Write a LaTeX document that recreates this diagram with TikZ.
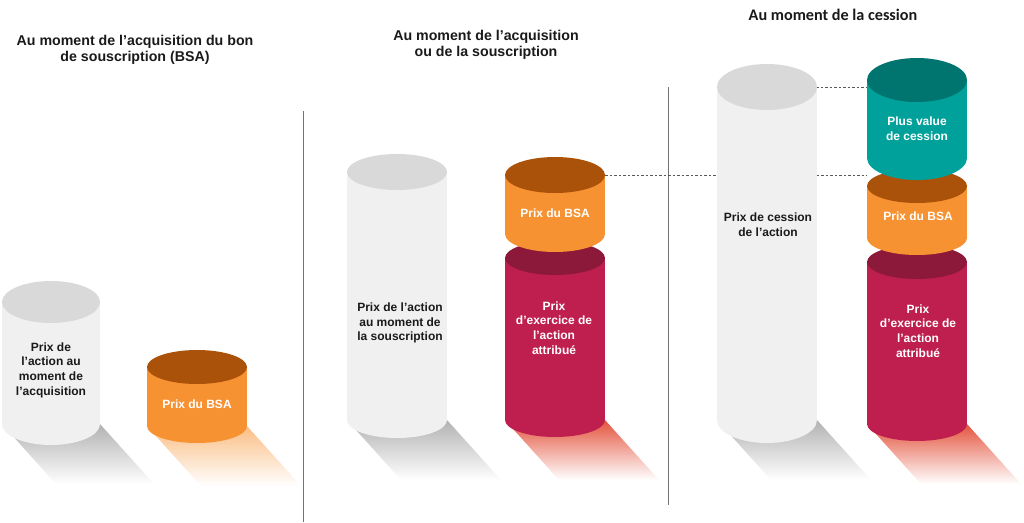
\documentclass[tikz,border=0pt]{standalone}
\usepackage{fontspec}
\setmainfont{Liberation Sans}
\newfontfamily\carlito{Carlito}
\usepackage{xcolor}
\usepackage{tikz}
\usetikzlibrary{positioning, calc}
\definecolor{ShareGray}{RGB}{240,240,240}
\definecolor{ShareGrayTop}{RGB}{217,217,217}
\definecolor{BsaOrange}{RGB}{247,146,50}
\definecolor{BsaOrangeTop}{RGB}{170,82,10}
\definecolor{StrikeRed}{RGB}{190,31,78}
\definecolor{StrikeRedTop}{RGB}{140,24,58}
\definecolor{GainTeal}{RGB}{0,161,155}
\definecolor{GainTealTop}{RGB}{0,116,110}
\definecolor{InkDark}{RGB}{26,26,26}
\definecolor{ShadowRed}{RGB}{228,84,62}
\definecolor{ShadowGray}{RGB}{178,178,178}
\definecolor{ShadowOrange}{RGB}{250,190,132}

% cylinder: cx, top y, bottom y, rx, ry, body colour, lid colour
\newcommand{\barrel}[7]{%
  \fill[#6] (#1-#4,#2) rectangle (#1+#4,#3);
  \fill[#6] (#1,#3) ellipse [x radius=#4pt, y radius=#5pt];
  \fill[#7] (#1,#2) ellipse [x radius=#4pt, y radius=#5pt];
}
% cast shadow: cx, bottom y, rx, colour
\newcommand{\castshadow}[4]{%
  \shade[top color=#4, middle color=#4!35, bottom color=white]
    (#1-#3,#2) -- (#1+#3,#2) -- (#1+#3+54,#2+60) -- (#1-#3+54,#2+60) -- cycle;
}

\begin{document}
\begin{tikzpicture}[
  x=1pt, y=-1pt,
  title/.style={font=\bfseries\fontsize{14.2}{16.5}\selectfont, text=InkDark,
                align=center, inner sep=0pt},
  label/.style={font=\bfseries\fontsize{12}{14.7}\selectfont, align=center,
                inner sep=0pt},
  darklabel/.style={label, text=InkDark},
  lightlabel/.style={label, text=white},
  divider/.style={draw=black!55, line width=1pt},
  guide/.style={draw=black!65, line width=0.6pt,
                dash pattern=on 2.5pt off 2pt},
]
\useasboundingbox[fill=white] (0,0) rectangle (1024,522);

% shadows
\castshadow{51}{424}{49}{ShadowGray}
\castshadow{197}{426}{50}{ShadowOrange}
\castshadow{397}{420}{50}{ShadowGray}
\castshadow{555}{420}{50}{ShadowRed}
\castshadow{767}{420}{50}{ShadowGray}
\castshadow{917}{424}{50}{ShadowRed}

% dividers
\coordinate (d1a) at (303,111);
\coordinate (d1b) at (303,522);
\coordinate (d2a) at (668,87);
\coordinate (d2b) at (668,505);
\draw[divider] (d1a) -- (d1b);
\draw[divider] (d2a) -- (d2b);

% guides between the columns
\coordinate (bsaLid) at (605,175);
\coordinate (gainFoot) at (867,175);
\coordinate (saleLid) at (816,87);
\coordinate (gainLid) at (867,87);
\draw[guide] (bsaLid) -- (gainFoot);
\draw[guide] (saleLid) -- (gainLid);

% column 1: acquisition du BSA
\barrel{51}{302}{424}{49}{21}{ShareGray}{ShareGrayTop}
\barrel{197}{367}{426}{50}{17}{BsaOrange}{BsaOrangeTop}
\node[title] (t1) at (135,50) {Au moment de l’acquisition du bon\\de souscription (BSA)};
\node[darklabel] (a1) at (51,370) {Prix de\\l’action au\\moment de\\l’acquisition};
\node[lightlabel] (b1) at (197,404) {Prix du BSA};

% column 2: acquisition ou souscription
\barrel{397}{172}{420}{50}{18}{ShareGray}{ShareGrayTop}
\barrel{555}{258}{420}{50}{17}{StrikeRed}{StrikeRedTop}
\barrel{555}{175}{234}{50}{18}{BsaOrange}{BsaOrangeTop}
\node[title] (t2) at (486,45) {Au moment de l’acquisition\\ou de la souscription};
\node[darklabel] (a2) at (400,323) {Prix de l’action\\au moment de\\la souscription};
\node[lightlabel] (b2) at (555,213) {Prix du BSA};
\node[lightlabel] (e2) at (554,328) {Prix\\d’exercice de\\l’action\\attribué};

% column 3: cession
\barrel{767}{87}{420}{50}{23}{ShareGray}{ShareGrayTop}
\barrel{917}{262}{424}{50}{17}{StrikeRed}{StrikeRedTop}
\barrel{917}{186}{238}{50}{17}{BsaOrange}{BsaOrangeTop}
\barrel{917}{80}{158}{50}{22}{GainTeal}{GainTealTop}
\node[title, font=\carlito\bfseries\fontsize{16.2}{19}\selectfont] (t3) at (833,15) {Au moment de la cession};
\node[darklabel] (a3) at (768,225) {Prix de cession\\de l’action};
\node[lightlabel] (g3) at (917,129) {Plus value\\de cession};
\node[lightlabel] (b3) at (918,216) {Prix du BSA};
\node[lightlabel] (e3) at (918,331) {Prix\\d’exercice de\\l’action\\attribué};

\end{tikzpicture}
\end{document}
